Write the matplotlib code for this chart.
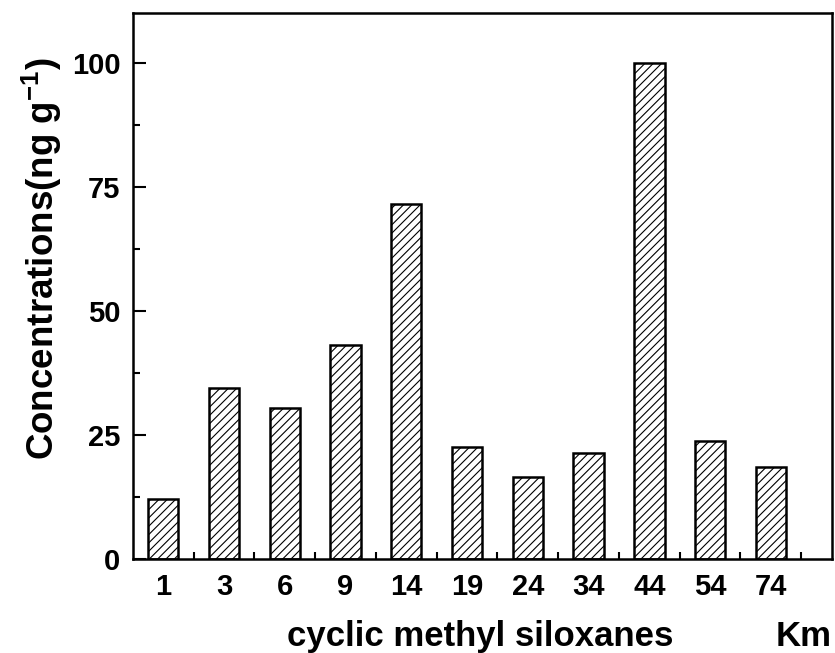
import numpy as np
import matplotlib
matplotlib.use("Agg")
import matplotlib.pyplot as plt
from matplotlib.ticker import MultipleLocator, FixedLocator

plt.rcParams['font.family'] = ['Liberation Sans', 'DejaVu Sans']
plt.rcParams['font.weight'] = 'bold'
plt.rcParams['mathtext.fontset'] = 'custom'
plt.rcParams['mathtext.rm'] = 'Liberation Sans:bold'
plt.rcParams['mathtext.bf'] = 'Liberation Sans:bold'
plt.rcParams['hatch.linewidth'] = 0.8
plt.rcParams['hatch.color'] = '#333333'

# distance from source (Km) and concentration (ng/g)
distances = ['1', '3', '6', '9', '14', '19', '24', '34', '44', '54', '74']
concentrations = [12.1, 34.4, 30.4, 43.1, 71.6, 22.5, 16.5, 21.3, 100.0, 23.7, 18.5]

fig = plt.figure(figsize=(8.35, 6.53), dpi=100)
ax = fig.add_axes([0.159, 0.144, 0.837, 0.836])

x = np.arange(len(distances))
ax.bar(x, concentrations, width=0.5, color='white', edgecolor='black',
       linewidth=1.8, hatch='////')

ax.set_xlim(-0.5, 11)
ax.set_ylim(0, 110)
ax.set_xticks(x)
ax.set_xticklabels(distances)
ax.xaxis.set_minor_locator(FixedLocator(np.arange(0.5, 11, 1.0)))
ax.yaxis.set_major_locator(MultipleLocator(25))
ax.yaxis.set_minor_locator(MultipleLocator(12.5))

ax.tick_params(axis='both', which='major', direction='in', length=9, width=1.5,
               labelsize=21, pad=9)
ax.tick_params(axis='both', which='minor', direction='in', length=5, width=1.5)
ax.tick_params(axis='x', which='major', length=0, pad=10)
for s in ax.spines.values():
    s.set_linewidth(1.8)

ax.set_ylabel(r'Concentrations(ng g$^{-1}$)', fontsize=26.5, fontweight='bold')
ax.yaxis.set_label_coords(-0.099, 0.55)
fig.text(0.575, 0.026, 'cyclic methyl siloxanes', fontsize=25, fontweight='bold',
         ha='center', va='center')
fig.text(0.963, 0.026, 'Km', fontsize=25, fontweight='bold', ha='center', va='center')

fig.savefig('out.png', dpi=100)
